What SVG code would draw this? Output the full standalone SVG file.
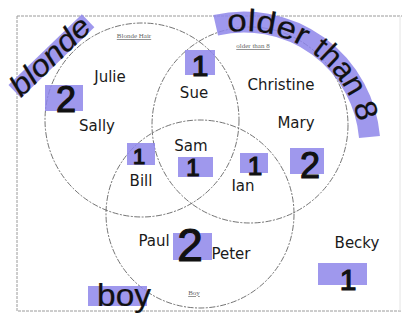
<svg xmlns="http://www.w3.org/2000/svg" width="404" height="328" viewBox="0 0 404 328">
  <defs>
    <style>
      .frame { fill: none; stroke: #9a9a9a; stroke-width: 1; stroke-dasharray: 3 1; }
      .circ { fill: none; stroke: #505050; stroke-width: 0.8; stroke-dasharray: 6 1.5 2 1.5; }
      .name { font-family: "DejaVu Sans", "Liberation Sans", sans-serif; font-size: 15px; fill: #1a1a1a; text-anchor: middle; }
      .patch { fill: #8e86ea; opacity: 0.85; }
      .band { fill: none; stroke: #8e86ea; opacity: 0.85; }
      .num { font-family: "Liberation Sans", "DejaVu Sans", sans-serif; fill: #111; stroke: #111; stroke-width: 1.2; text-anchor: middle; }
      .hand { font-family: "Liberation Sans", "DejaVu Sans", sans-serif; fill: #111; stroke: #111; stroke-width: 0.2; }
      .small { font-family: "Liberation Serif", serif; font-size: 7px; fill: #666; text-anchor: middle; text-decoration: underline; }
    </style>
    <path id="olderPath" d="M 227.7 32.1 A 117 117 0 0 1 360.8 141.9"/>
  </defs>
  <rect width="404" height="328" fill="#ffffff"/>
  <g id="frame">
    <path class="frame" d="M 17 16 H 402 M 17 16 V 311 H 402"/>
    <path d="M 400 16 V 311" fill="none" stroke="#e4e4e4" stroke-width="1"/>
  </g>
  <g id="connectors">
    <circle id="circle-blonde" class="circ" cx="142" cy="120" r="97"/>
    <circle id="circle-older" class="circ" cx="250" cy="125" r="98"/>
    <circle id="circle-boy" class="circ" cx="200" cy="214" r="94"/>
  </g>
  <g id="set-labels">
    <text class="small" x="134" y="38">Blonde Hair</text>
    <text class="small" x="253" y="48">older than 8</text>
    <text class="small" x="194" y="295">Boy</text>
  </g>
  <g id="label-blonde">
    <g transform="translate(21,98) rotate(-44)">
      <rect class="patch" x="0" y="-18" width="102" height="18"/>
      <text class="hand" x="0" y="0" font-size="30" font-style="italic" textLength="100" lengthAdjust="spacingAndGlyphs">blonde</text>
    </g>
  </g>
  <g id="label-older">
    <path class="band" d="M 215.7 25.2 A 126 126 0 0 1 369.5 137.0" stroke-width="21"/>
    <text class="hand" font-size="31"><textPath href="#olderPath" startOffset="0" textLength="78" lengthAdjust="spacingAndGlyphs">older</textPath></text>
    <text class="hand" font-size="31"><textPath href="#olderPath" startOffset="88" textLength="60" lengthAdjust="spacingAndGlyphs">than</textPath></text>
    <text class="hand" font-size="31"><textPath href="#olderPath" startOffset="156" textLength="18" lengthAdjust="spacingAndGlyphs">8</textPath></text>
  </g>
  <g id="label-boy">
    <rect class="patch" x="88" y="286" width="59" height="20"/>
    <text class="hand" x="97" y="306" font-size="32" textLength="54" lengthAdjust="spacingAndGlyphs">boy</text>
  </g>
  <g id="node-julie"><text class="name" x="110" y="82">Julie</text></g>
  <g id="node-sally"><text class="name" x="97" y="131">Sally</text></g>
  <g id="node-sue"><text class="name" x="194" y="98">Sue</text></g>
  <g id="node-christine"><text class="name" x="281" y="90">Christine</text></g>
  <g id="node-mary"><text class="name" x="296" y="128">Mary</text></g>
  <g id="node-sam"><text class="name" x="191" y="151">Sam</text></g>
  <g id="node-bill"><text class="name" x="141" y="186">Bill</text></g>
  <g id="node-ian"><text class="name" x="243" y="191">Ian</text></g>
  <g id="node-paul"><text class="name" x="154" y="246">Paul</text></g>
  <g id="node-peter"><text class="name" x="231" y="259">Peter</text></g>
  <g id="node-becky"><text class="name" x="357" y="248">Becky</text></g>
  <g id="count-blonde-only">
    <rect class="patch" x="45" y="85" width="38" height="26"/>
    <text class="num" x="66" y="112" font-size="36">2</text>
  </g>
  <g id="count-blonde-older">
    <rect class="patch" x="185" y="50" width="30" height="25"/>
    <text class="num" x="200" y="76" font-size="30">1</text>
  </g>
  <g id="count-blonde-boy">
    <rect class="patch" x="127" y="143" width="28" height="22"/>
    <text class="num" x="139" y="164" font-size="22">1</text>
  </g>
  <g id="count-all">
    <rect class="patch" x="178" y="157" width="35" height="20"/>
    <text class="num" x="193" y="176" font-size="24">1</text>
  </g>
  <g id="count-older-boy">
    <rect class="patch" x="240" y="153" width="28" height="20"/>
    <text class="num" x="255" y="175" font-size="26">1</text>
  </g>
  <g id="count-older-only">
    <rect class="patch" x="290" y="148" width="34" height="26"/>
    <text class="num" x="310" y="178" font-size="36">2</text>
  </g>
  <g id="count-boy-only">
    <rect class="patch" x="173" y="233" width="39" height="27"/>
    <text class="num" x="190" y="261" font-size="46">2</text>
  </g>
  <g id="count-none">
    <rect class="patch" x="318" y="263" width="49" height="22"/>
    <text class="num" x="348" y="290" font-size="30">1</text>
  </g>
</svg>
